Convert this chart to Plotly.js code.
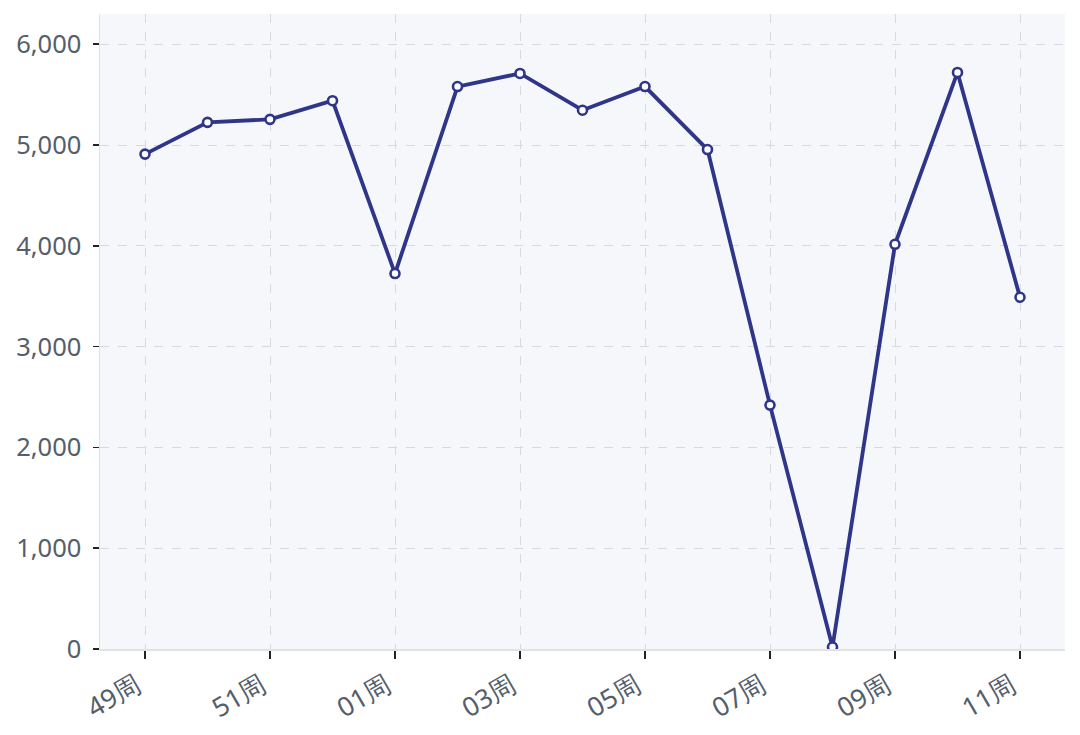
<!DOCTYPE html>
<html>
<head>
<meta charset="utf-8">
<script src="https://cdn.plot.ly/plotly-3.0.1.min.js"></script>
<style>html,body{margin:0;padding:0;background:#fff;}#chart{width:1080px;height:735px;}</style>
</head>
<body>
<div id="chart"></div>
<script>
const weeks = ["49周","50周","51周","52周","01周","02周","03周","04周","05周","06周","07周","08周","09周","10周","11周"];
const values = [4910, 5225, 5255, 5440, 3725, 5580, 5710, 5345, 5580, 4955, 2420, 20, 4015, 5720, 3490];
const tickLabels = ["49周","51周","01周","03周","05周","07周","09周","11周"];
const yTicks = [0, 1000, 2000, 3000, 4000, 5000, 6000];

const trace = {
  x: weeks.map((_, i) => i),
  y: values,
  type: 'scatter',
  mode: 'lines+markers',
  line: {color: '#2f3589', width: 3.8},
  marker: {size: 9, color: '#ffffff', line: {color: '#2f3589', width: 2.6}},
  hoverinfo: 'x+y'
};

const tickvals = tickLabels.map(t => weeks.indexOf(t));

const layout = {
  width: 1080, height: 735,
  margin: {l: 100, r: 15, t: 14, b: 86},
  paper_bgcolor: '#ffffff',
  plot_bgcolor: '#f5f7fa',
  showlegend: false,
  font: {family: 'Noto Sans, Open Sans, sans-serif', color: '#555e6b'},
  xaxis: {
    range: [-0.72, 14.72],
    tickvals: tickvals,
    ticktext: tickLabels,
    tickangle: -30,
    ticks: 'outside', ticklen: 8, tickcolor: '#222', tickwidth: 1.5,
    ticklabelshift: -8,
    ticklabelstandoff: 1,
    showgrid: true, gridcolor: '#d6d9de', griddash: 'dash', gridwidth: 1,
    showline: true, linecolor: '#dfe2e6', linewidth: 1.5,
    zeroline: false,
    tickfont: {size: 26.5, color: '#555e6b'}
  },
  yaxis: {
    range: [0, 6300],
    tickvals: yTicks,
    tickformat: ',d',
    ticks: 'outside', ticklen: 6, tickcolor: '#222', tickwidth: 1.5,
    ticklabelstandoff: 6,
    showgrid: true, gridcolor: '#d6d9de', griddash: 'dash', gridwidth: 1,
    showline: true, linecolor: '#dfe2e6', linewidth: 1.5,
    zeroline: false,
    tickfont: {size: 25.5, color: '#555e6b'}
  }
};

Plotly.newPlot('chart', [trace], layout, {displayModeBar: false, staticPlot: true});
</script>
</body>
</html>
